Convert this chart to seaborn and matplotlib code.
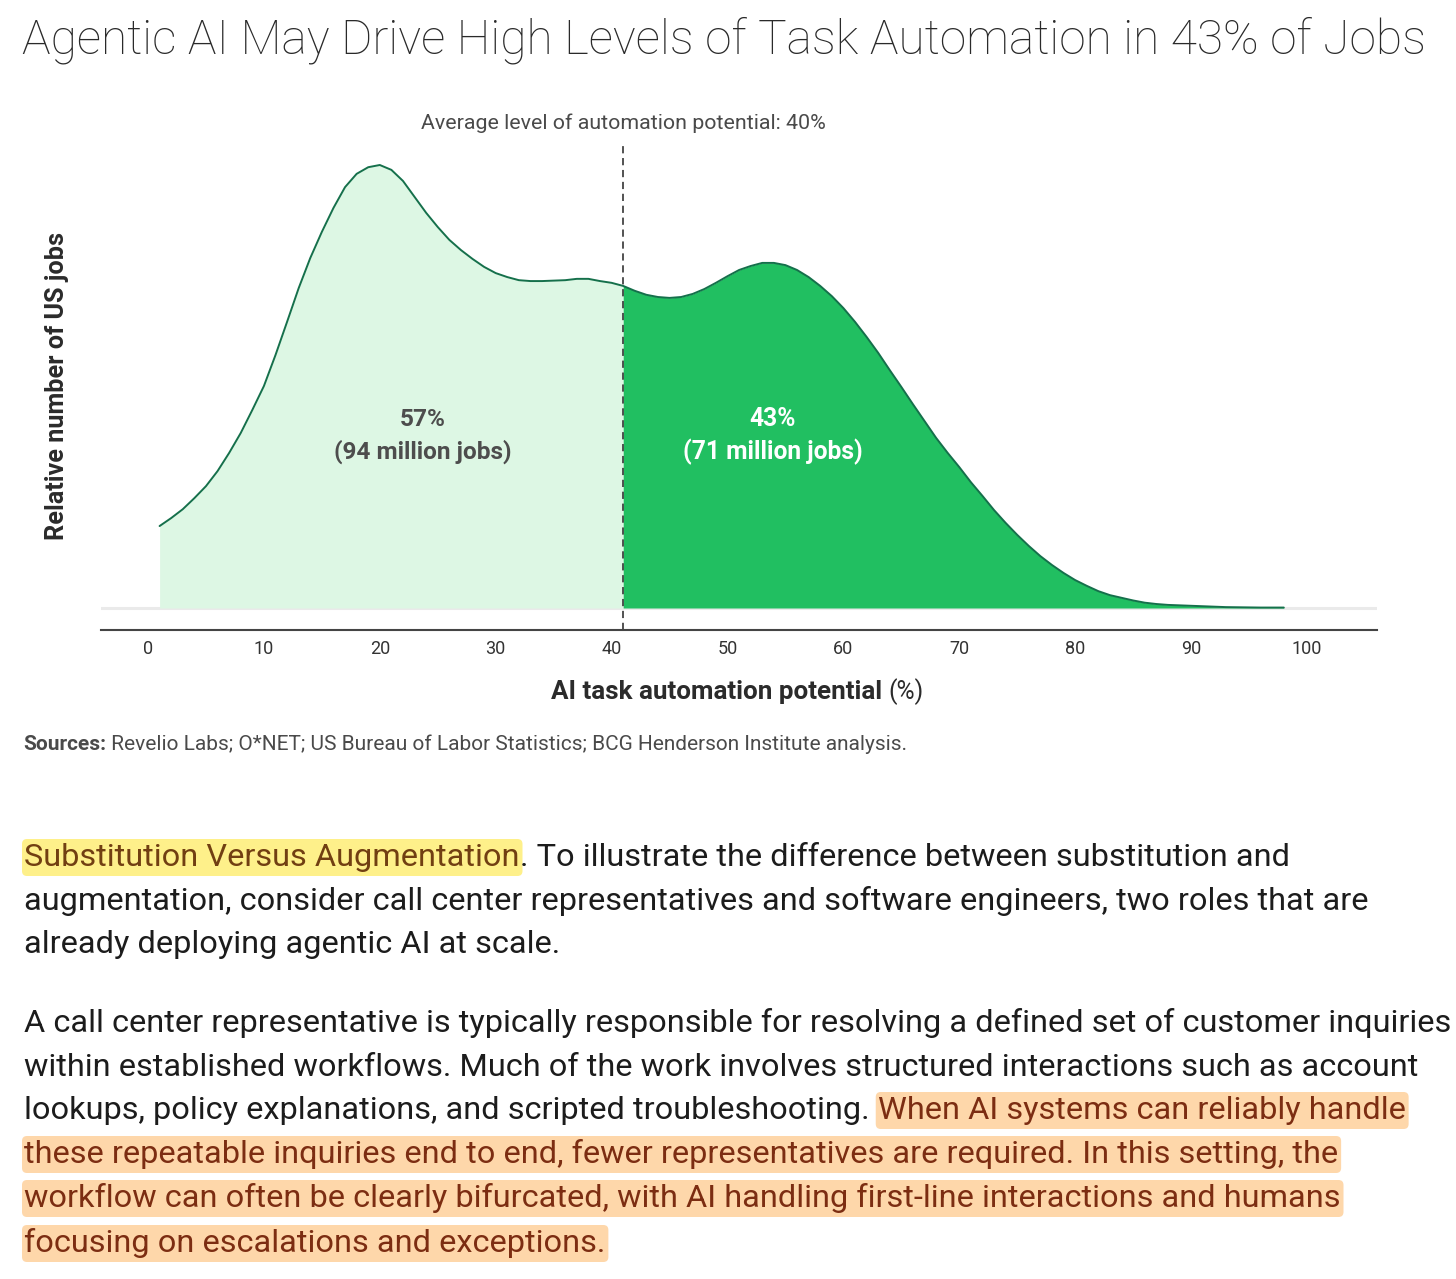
import matplotlib
matplotlib.use("Agg")
import matplotlib.pyplot as plt
import numpy as np
import pandas as pd
import seaborn as sns
from matplotlib import font_manager
from matplotlib.patches import FancyBboxPatch
from matplotlib.transforms import IdentityTransform

# ---------------- data ----------------
automation_potential = [1, 2, 3, 4, 5, 6, 7, 8, 9, 10,
                        11, 12, 13, 14, 15, 16, 17, 18, 19, 20,
                        21, 22, 23, 24, 25, 26, 27, 28, 29, 30,
                        31, 32, 33, 34, 35, 36, 37, 38, 39, 40,
                        41, 42, 43, 44, 45, 46, 47, 48, 49, 50,
                        51, 52, 53, 54, 55, 56, 57, 58, 59, 60,
                        61, 62, 63, 64, 65, 66, 67, 68, 69, 70,
                        71, 72, 73, 74, 75, 76, 77, 78, 79, 80,
                        81, 82, 83, 84, 85, 86, 87, 88, 90, 93,
                        96, 98]
relative_jobs = [18.5, 20.3, 22.3, 24.8, 27.5, 30.9, 35.0, 39.5, 44.7, 50.1,
                 57.1, 64.6, 72.2, 79.0, 84.9, 90.3, 95.0, 98.0, 99.5, 100.0,
                 98.9, 96.4, 92.8, 89.2, 86.0, 83.1, 80.8, 78.8, 77.0, 75.6,
                 74.7, 74.0, 73.8, 73.8, 73.9, 74.0, 74.3, 74.3, 73.8, 73.4,
                 72.7, 71.6, 70.7, 70.2, 70.0, 70.2, 70.9, 72.0, 73.4, 74.9,
                 76.3, 77.2, 77.9, 77.9, 77.4, 76.3, 74.7, 72.7, 70.4, 67.7,
                 64.6, 61.2, 57.6, 53.7, 49.9, 46.0, 42.2, 38.4, 35.0, 31.8,
                 28.4, 25.3, 22.1, 19.2, 16.5, 14.0, 11.7, 9.7, 7.9, 6.3,
                 5.0, 3.8, 2.9, 2.3, 1.7, 1.2, 0.9, 0.7, 0.5, 0.2,
                 0.1, 0.1]
split_value = 41
average_label = "Average level of automation potential: 40%"
below_label = "57%\n(94 million jobs)"
above_label = "43%\n(71 million jobs)"
x_ticks = [0, 10, 20, 30, 40, 50, 60, 70, 80, 90, 100]
title_text = "Agentic AI May Drive High Levels of Task Automation in 43% of Jobs"
x_label_main = "AI task automation potential"
x_label_unit = "(%)"
y_label_text = "Relative number of US jobs"
source_head = "Sources:"
source_body = "Revelio Labs; O*NET; US Bureau of Labor Statistics; BCG Henderson Institute analysis."

body_lines = [
    [("Substitution Versus Augmentation", "yellow", False),
     (". To illustrate the difference between substitution and", None, False)],
    [("augmentation, consider call center representatives and software engineers, two roles that are", None, False)],
    [("already deploying agentic AI at scale.", None, False)],
    [("A call center representative is typically responsible for resolving a defined set of customer inquiries", None, False)],
    [("within established workflows. Much of the work involves structured interactions such as account", None, False)],
    [("lookups, policy explanations, and scripted troubleshooting.", None, True),
     ("When AI systems can reliably handle", "orange", False)],
    [("these repeatable inquiries end to end, fewer representatives are required. In this setting, the", "orange", False)],
    [("workflow can often be clearly bifurcated, with AI handling first-line interactions and humans", "orange", False)],
    [("focusing on escalations and exceptions.", "orange", False)],
]

# ---------------- setup ----------------
W, H, DPI = 1456, 1279, 100
sns.set_theme(style="white")
avail = {f.name for f in font_manager.fontManager.ttflist}


def pick(*names):
    for n in names:
        if n in avail:
            return n
    return "DejaVu Sans"


FONT = pick("Roboto", "Lato", "Noto Sans")
plt.rcParams["font.family"] = [FONT, "DejaVu Sans"]

fig = plt.figure(figsize=(W / DPI, H / DPI), dpi=DPI)
fig.patch.set_facecolor("white")
renderer = fig.canvas.get_renderer()


def fx(px):
    return px / W


def fy(py):
    return 1 - py / H


def width_of(t):
    return t.get_window_extent(renderer=renderer).width


def height_of(t):
    return t.get_window_extent(renderer=renderer).height


def fit(t, target, measure=width_of):
    for _ in range(2):
        t.set_fontsize(t.get_fontsize() * target / measure(t))


# axes frame in pixels
ax_l, ax_r, ax_t, ax_b = 101, 1377, 100, 630
ax = fig.add_axes([fx(ax_l), fy(ax_b), (ax_r - ax_l) / W, (ax_b - ax_t) / H])
ax.set_facecolor("white")

ppx = (1307 - 148) / 100.0     # pixels per x unit
ppy = (608 - 165) / 100.0      # pixels per y unit
ax.set_xlim((ax_l - 148) / ppx, (ax_r - 148) / ppx)
ax.set_ylim(-(ax_b - 608) / ppy, (608 - ax_t) / ppy)

df = pd.DataFrame({"x": automation_potential, "y": relative_jobs})
xv = df["x"].to_numpy(dtype=float)
yv = df["y"].to_numpy(dtype=float)

ax.axhline(0, color="#EAEAEA", lw=2.2, zorder=0)
ax.fill_between(xv, 0, yv, where=xv <= split_value, color="#DDF7E4", lw=0, zorder=1)
ax.fill_between(xv, 0, yv, where=xv >= split_value, color="#21BF61", lw=0, zorder=1)
sns.lineplot(data=df, x="x", y="y", ax=ax, color="#15704B", lw=1.4, zorder=3)
for ln in ax.get_lines():
    ln.set_solid_joinstyle("round")

ax.axvline(split_value, ymin=0, ymax=(ax_b - 143) / (ax_b - ax_t),
           color="#444444", lw=1.3, ls=(0, (4, 2.6)), zorder=4)

t_avg = ax.text(split_value, (608 - 123) / ppy, average_label, ha="center", va="center",
                fontsize=12.3, color="#4a4a4a", zorder=5)
fit(t_avg, 405)

t_below = ax.text((423 - 148) / ppx, (608 - 436) / ppy, below_label, ha="center", va="center",
                  multialignment="center", fontsize=13.5, fontweight="bold", color="#4d4d4d",
                  linespacing=1.4, zorder=5)
fit(t_below, 178)
t_above = ax.text((773 - 148) / ppx, (608 - 436) / ppy, above_label, ha="center", va="center",
                  multialignment="center", fontsize=13.5, fontweight="bold", color="white",
                  linespacing=1.4, zorder=5)
fit(t_above, 179)

ax.set_xticks(x_ticks)
ax.set_xticklabels([str(v) for v in x_ticks])
ax.set_yticks([])
ax.tick_params(axis="x", length=0, pad=7, labelsize=13, colors="#333333")
sns.despine(ax=ax, left=True, top=True, right=True)
ax.spines["bottom"].set_color("#444444")
ax.spines["bottom"].set_linewidth(1.5)

ax.set_xlabel(x_label_main, fontweight="bold", fontsize=14, color="#2b2b2b")
ax.xaxis.set_label_coords((551 - 101) / (ax_r - ax_l), (ax_b - 692) / (ax_b - ax_t))
ax.xaxis.label.set_ha("left")
ax.xaxis.label.set_va("center")
fit(ax.xaxis.label, 331)
ax.set_ylabel(y_label_text, fontweight="bold", fontsize=15, color="#2b2b2b")
ax.yaxis.set_label_coords((57 - 101) / (ax_r - ax_l), (ax_b - 386) / (ax_b - ax_t))
ax.yaxis.label.set_ha("center")
ax.yaxis.label.set_va("center")
fit(ax.yaxis.label, 308, measure=height_of)

fig.canvas.draw()
lab_bb = ax.xaxis.label.get_window_extent(renderer=renderer)
fig.text(fx(lab_bb.x1 + 6), fy(692), x_label_unit, ha="left", va="center",
         fontsize=ax.xaxis.label.get_fontsize() * 0.95, color="#2b2b2b")

# ---------------- title ----------------
t_title = fig.text(fx(22), fy(54), title_text, ha="left", va="baseline", fontsize=32,
                   fontweight="light", color="#2a2a2a")
fit(t_title, 1405)

# ---------------- sources ----------------
s1 = fig.text(fx(23), fy(750), source_head, ha="left", va="baseline", fontsize=11,
              fontweight="bold", color="#4a4a4a")
s2 = fig.text(fx(23), fy(750), " " + source_body, ha="left", va="baseline", fontsize=11,
              color="#4a4a4a")
total = width_of(s1) + width_of(s2)
scale = 881 / total
s1.set_fontsize(11 * scale)
s2.set_fontsize(11 * scale)
s2.set_x(fx(23 + width_of(s1)))

# ---------------- body text ----------------
probe = fig.text(0, 0, body_lines[3][0][0], fontsize=21)
body_fs = 21 * 1423 / width_of(probe)
probe.set_fontsize(body_fs)
body_fs = body_fs * 1423 / width_of(probe)
probe.set_fontsize(body_fs)
probe.set_text("a a")
w_aa = width_of(probe)
probe.set_text("aa")
space_w = w_aa - width_of(probe)
probe.remove()

styles = {
    None: ("#1c1c1c", None),
    "yellow": ("#713F12", "#FEF08A"),
    "orange": ("#7C2D12", "#FED7AA"),
}
baselines = [866, 910, 953, 1032, 1076, 1119, 1163, 1207, 1252]
for segs, base in zip(body_lines, baselines):
    cx = 24
    for text, style, gap in segs:
        color, bg = styles[style]
        t = fig.text(fx(cx), fy(base), text, ha="left", va="baseline", fontsize=body_fs,
                     color=color, zorder=3)
        w = width_of(t)
        if bg is not None:
            patch = FancyBboxPatch((cx - 2, H - (base + 10)), w + 5, 37,
                                   boxstyle="round,pad=0,rounding_size=5",
                                   transform=IdentityTransform(), facecolor=bg,
                                   edgecolor="none", zorder=1)
            fig.add_artist(patch)
        cx += w + (space_w if gap else 0)

fig.savefig("out.png", dpi=DPI, facecolor="white")
